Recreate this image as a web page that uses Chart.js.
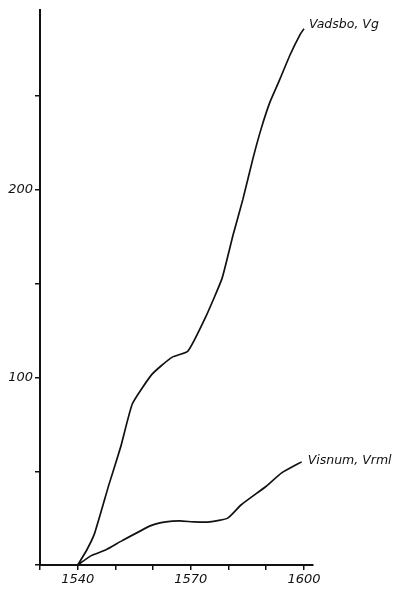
<!DOCTYPE html>
<html>
<head>
<meta charset="utf-8">
<script src="https://cdn.jsdelivr.net/npm/chart.js@4.4.0/dist/chart.umd.min.js"></script>
<style>
  html, body { margin: 0; padding: 0; background: #fff; }
  #wrap { width: 414px; height: 589px; }
</style>
</head>
<body>
<div id="wrap"><canvas id="line-chartcanvas"></canvas></div>
<script>
// values
var vadsboYears = [1540, 1542.4, 1544.5, 1548.3, 1551.4, 1554.5, 1559.4, 1562, 1565.2, 1569.2, 1574.1, 1578.3, 1581.2, 1583.8, 1586.5, 1588.7, 1591, 1593.6, 1596.3, 1599, 1600];
var vadsboValues = [0, 8, 17, 43, 63, 86, 101, 106, 111, 114, 133, 153, 176, 195, 217, 233, 247, 259, 272, 283, 286];

var visnumYears = [1540, 1543.6, 1547.4, 1551.8, 1559.4, 1563.4, 1567, 1571, 1575, 1579.8, 1583.3, 1590, 1594, 1599.4];
var visnumValues = [0, 5, 8, 13, 21, 23, 23.5, 23, 23, 25, 32, 42, 49, 55];

var seriesNames = ["Vadsbo, Vg", "Visnum, Vrml"];
var xTickLabels = [1540, 1570, 1600];
var yTickLabels = [100, 200];

function toPoints(xs, ys) {
	var pts = [];
	for (var i = 0; i < xs.length; i++) {
		pts.push({ x: xs[i], y: ys[i] });
	}
	return pts;
}

var handFont = { family: "DejaVu Sans", style: "italic", size: 13 };

// series name written at the end of each line
var endLabels = {
	id: "endLabels",
	afterDatasetsDraw: function(chart) {
		var ctx = chart.ctx;
		var offsets = [[5, -4], [6, -1]];
		ctx.save();
		ctx.font = "italic 12.5px 'DejaVu Sans'";
		ctx.fillStyle = "#111";
		ctx.textBaseline = "middle";
		ctx.textAlign = "left";
		chart.data.datasets.forEach(function(ds, i) {
			var meta = chart.getDatasetMeta(i);
			var p = meta.data[meta.data.length - 1];
			ctx.fillText(ds.label, p.x + offsets[i][0], p.y + offsets[i][1]);
		});
		ctx.restore();
	}
};

var ctx = document.getElementById("line-chartcanvas");

var data = {
	datasets: [
		{
			label: seriesNames[0],
			data: toPoints(vadsboYears, vadsboValues),
			borderColor: "#111",
			borderWidth: 1.7,
			fill: false,
			tension: 0.15,
			pointRadius: 0
		},
		{
			label: seriesNames[1],
			data: toPoints(visnumYears, visnumValues),
			borderColor: "#111",
			borderWidth: 1.7,
			fill: false,
			tension: 0.15,
			pointRadius: 0
		}
	]
};

var options = {
	responsive: true,
	maintainAspectRatio: false,
	animation: false,
	layout: { padding: { top: 10, right: 101, left: 0, bottom: 0 } },
	plugins: {
		legend: { display: false },
		tooltip: { enabled: false }
	},
	scales: {
		x: {
			type: "linear",
			min: 1530,
			max: 1602.4,
			afterFit: function(scale) { scale.height = 24; },
			border: { display: true, color: "#111", width: 2 },
			grid: { drawOnChartArea: false, drawTicks: true, tickLength: 5, color: "#111", lineWidth: 1.5 },
			ticks: {
				stepSize: 10,
				includeBounds: false,
				autoSkip: false,
				maxRotation: 0,
				padding: 2,
				color: "#111",
				font: handFont,
				callback: function(v) { return xTickLabels.indexOf(v) >= 0 ? String(v) : ""; }
			}
		},
		y: {
			min: 0,
			max: 296,
			afterFit: function(scale) { scale.width = 40; },
			border: { display: true, color: "#111", width: 2 },
			grid: { drawOnChartArea: false, drawTicks: true, tickLength: 5, color: "#111", lineWidth: 1.5 },
			ticks: {
				stepSize: 50,
				includeBounds: false,
				autoSkip: false,
				padding: 2,
				color: "#111",
				font: handFont,
				callback: function(v) { return yTickLabels.indexOf(v) >= 0 ? String(v) : ""; }
			}
		}
	}
};

var chart = new Chart(ctx, {
	type: "line",
	data: data,
	options: options,
	plugins: [endLabels]
});
</script>
</body>
</html>
